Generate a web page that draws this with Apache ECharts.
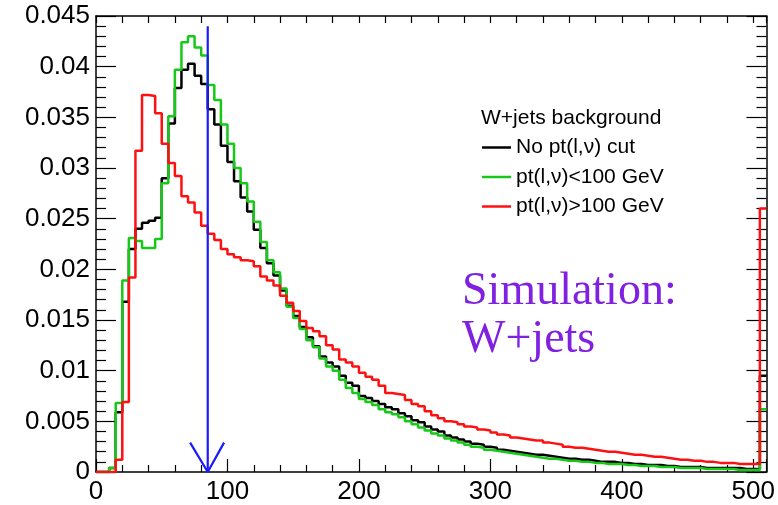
<!DOCTYPE html>
<html>
<head>
<meta charset="utf-8">
<script src="https://cdn.jsdelivr.net/npm/echarts@6/dist/echarts.min.js"></script>
<style>
html,body{margin:0;padding:0;background:#fff;}
#chart{width:778px;height:505px;}
</style>
</head>
<body>
<div id="chart"></div>
<script>
// bin lower edges (GeV); last bin (505) is the overflow bin
const binStart = [0,5,10,15,20,25,30,35,40,45,50,55,60,65,70,75,80,85,90,95,
  100,105,110,115,120,125,130,135,140,145,150,155,160,165,170,175,180,185,190,195,
  200,205,210,215,220,225,230,235,240,245,250,255,260,265,270,275,280,285,290,295,
  300,305,310,315,320,325,330,335,340,345,350,355,360,365,370,375,380,385,390,395,
  400,405,410,415,420,425,430,435,440,445,450,455,460,465,470,475,480,485,490,495,
  500,505];
const xMax = 510;

const seriesNames = ['No pt(l,\u03bd) cut', 'pt(l,\u03bd)<100 GeV', 'pt(l,\u03bd)>100 GeV'];

const noCut = [0,0,0.0004,0.0059,0.0168,0.0220,0.0240,0.0246,0.0248,0.0251,
  0.0290,0.0344,0.0379,0.0397,0.0403,0.0391,0.0383,0.0358,0.0343,0.0322,
  0.0306,0.0287,0.0271,0.0257,0.0239,0.0221,0.0206,0.0194,0.0179,0.0164,
  0.0154,0.0143,0.0133,0.0124,0.0114,0.0108,0.0104,0.0095,0.0088,0.0085,
  0.0075,0.0073,0.0070,0.0067,0.0064,0.0062,0.0058,0.0055,0.0051,0.0049,
  0.0045,0.0042,0.0040,0.0036,0.0034,0.0032,0.0030,0.0028,0.0027,0.0025,
  0.0024,0.0022,0.0021,0.0020,0.0019,0.0018,0.0017,0.0017,0.0016,0.0015,
  0.0014,0.0013,0.0013,0.0012,0.0012,0.0011,0.0010,0.0010,0.0010,0.0009,
  0.0009,0.0008,0.0008,0.0007,0.0007,0.0007,0.0006,0.0006,0.0005,0.0005,
  0.0005,0.0005,0.0004,0.0004,0.0004,0.0004,0.0004,0.0004,0.0003,0.0003,
  0.0003,0.0095];

const ptLow = [0,0,0.0004,0.0068,0.0189,0.0231,0.0228,0.0221,0.0221,0.0230,
  0.0285,0.0351,0.0397,0.0424,0.0430,0.0419,0.0411,0.0382,0.0367,0.0343,
  0.0324,0.0300,0.0285,0.0267,0.0247,0.0227,0.0209,0.0197,0.0181,0.0163,
  0.0152,0.0141,0.0130,0.0123,0.0112,0.0104,0.0100,0.0091,0.0083,0.0078,
  0.0072,0.0069,0.0066,0.0062,0.0059,0.0057,0.0054,0.0050,0.0047,0.0044,
  0.0041,0.0038,0.0036,0.0033,0.0031,0.0029,0.0027,0.0025,0.0024,0.0022,
  0.0021,0.0020,0.0019,0.0018,0.0017,0.0016,0.0015,0.0014,0.0013,0.0013,
  0.0012,0.0011,0.0011,0.0010,0.0010,0.0009,0.0009,0.0008,0.0008,0.0008,
  0.0007,0.0007,0.0006,0.0006,0.0006,0.0005,0.0005,0.0005,0.0004,0.0004,
  0.0004,0.0004,0.0003,0.0003,0.0003,0.0003,0.0003,0.0002,0.0002,0.0002,
  0.0002,0.0062];

const ptHigh = [0,0,0,0.0012,0.0069,0.0192,0.0317,0.0372,0.0371,0.0354,
  0.0324,0.0305,0.0292,0.0272,0.0266,0.0256,0.0243,0.0235,0.0229,0.0220,
  0.0215,0.0212,0.0209,0.0208,0.0203,0.0193,0.0189,0.0184,0.0174,0.0167,
  0.0159,0.0149,0.0142,0.0139,0.0134,0.0125,0.0121,0.0111,0.0108,0.0104,
  0.0098,0.0094,0.0091,0.0085,0.0078,0.0077,0.0076,0.0071,0.0067,0.0065,
  0.0060,0.0056,0.0053,0.0050,0.0049,0.0047,0.0045,0.0044,0.0042,0.0041,
  0.0039,0.0037,0.0036,0.0034,0.0033,0.0032,0.0031,0.0031,0.0029,0.0028,
  0.0027,0.0025,0.0024,0.0024,0.0023,0.0022,0.0021,0.0020,0.0020,0.0019,
  0.0018,0.0017,0.0017,0.0016,0.0015,0.0015,0.0014,0.0013,0.0012,0.0012,
  0.0011,0.0011,0.0010,0.0010,0.0009,0.0009,0.0009,0.0008,0.0008,0.0008,
  0.0008,0.0260];

// cut marker (vertical line with arrow head), data coordinates
const cutLine = [[85, 0.0440], [85, 0]];
const cutArrow = [[71.6, 0.0029], [85, 0], [97.4, 0.0029]];

const yTickLabels = ['0','0.005','0.01','0.015','0.02','0.025','0.03','0.035','0.04','0.045'];

function histData(vals) {
  const d = binStart.map((x, i) => [x, vals[i]]);
  d.push([xMax, vals[vals.length - 1]]);
  return d;
}

const FONT = 'Liberation Sans';
const chart = echarts.init(document.getElementById('chart'), null, {renderer: 'canvas'});

const axisLine = {show: true, onZero: false, lineStyle: {color: '#000', width: 1.5}};

chart.setOption({
  animation: false,
  backgroundColor: '#fff',
  grid: {left: 96, right: 7, top: 16, bottom: 33, containLabel: false},
  title: {
    text: 'W+jets background', left: 476, top: 103,
    textStyle: {fontFamily: FONT, fontSize: 21, fontWeight: 'normal', color: '#000'}
  },
  legend: {
    data: seriesNames,
    orient: 'vertical', left: 477, top: 131,
    icon: 'rect', itemWidth: 29, itemHeight: 2.5, itemGap: 6.5,
    textStyle: {fontFamily: FONT, fontSize: 21, color: '#000', lineHeight: 23}
  },
  graphic: [
    {type: 'text', left: 462, top: 268, z: 100,
     style: {text: 'Simulation:\nW+jets', fill: '#8020e0', font: '46px "Liberation Serif"', lineHeight: 48}}
  ],
  xAxis: [
    {type: 'value', min: 0, max: xMax, interval: 100, position: 'bottom',
     axisLine: axisLine,
     axisTick: {show: true, inside: true, length: 13, lineStyle: {color: '#000', width: 1.2}},
     minorTick: {show: true, splitNumber: 5, length: 7, lineStyle: {color: '#000', width: 1.2}},
     splitLine: {show: false}, minorSplitLine: {show: false},
     axisLabel: {show: true, fontFamily: FONT, fontSize: 26, color: '#000', margin: 7}},
    {type: 'value', min: 0, max: xMax, interval: 100, position: 'top',
     axisLine: axisLine,
     axisTick: {show: true, inside: true, length: 7, lineStyle: {color: '#000', width: 1.2}},
     minorTick: {show: true, splitNumber: 5, length: 7, lineStyle: {color: '#000', width: 1.2}},
     splitLine: {show: false}, axisLabel: {show: false}}
  ],
  yAxis: [
    {type: 'value', min: 0, max: 0.045, interval: 0.005, position: 'left',
     axisLine: axisLine,
     axisTick: {show: true, inside: true, length: 20, lineStyle: {color: '#000', width: 1.2}},
     minorTick: {show: true, splitNumber: 5, length: 10, lineStyle: {color: '#000', width: 1.2}},
     splitLine: {show: false}, minorSplitLine: {show: false},
     axisLabel: {show: true, fontFamily: FONT, fontSize: 26, color: '#000', margin: 6,
       formatter: function (v) { return yTickLabels[Math.round(v / 0.005)]; }}},
    {type: 'value', min: 0, max: 0.045, interval: 0.005, position: 'right',
     axisLine: axisLine,
     axisTick: {show: true, inside: true, length: 20, lineStyle: {color: '#000', width: 1.2}},
     minorTick: {show: true, splitNumber: 5, length: 10, lineStyle: {color: '#000', width: 1.2}},
     splitLine: {show: false}, axisLabel: {show: false}}
  ],
  series: [
    {name: seriesNames[0], type: 'line', step: 'end', data: histData(noCut),
     symbol: 'none', color: '#000', lineStyle: {color: '#000', width: 2.5}, z: 3},
    {name: seriesNames[1], type: 'line', step: 'end', data: histData(ptLow),
     symbol: 'none', color: '#18c818', lineStyle: {color: '#18c818', width: 2.5}, z: 4},
    {name: seriesNames[2], type: 'line', step: 'end', data: histData(ptHigh),
     symbol: 'none', color: '#ff1010', lineStyle: {color: '#ff1010', width: 2.5}, z: 5},
    {name: 'cut', type: 'line', data: cutLine, symbol: 'none',
     lineStyle: {color: '#1a1aff', width: 2.2}, z: 6},
    {name: 'cutArrow', type: 'line', data: cutArrow, symbol: 'none',
     lineStyle: {color: '#1a1aff', width: 2.2}, z: 6}
  ]
});
</script>
</body>
</html>
